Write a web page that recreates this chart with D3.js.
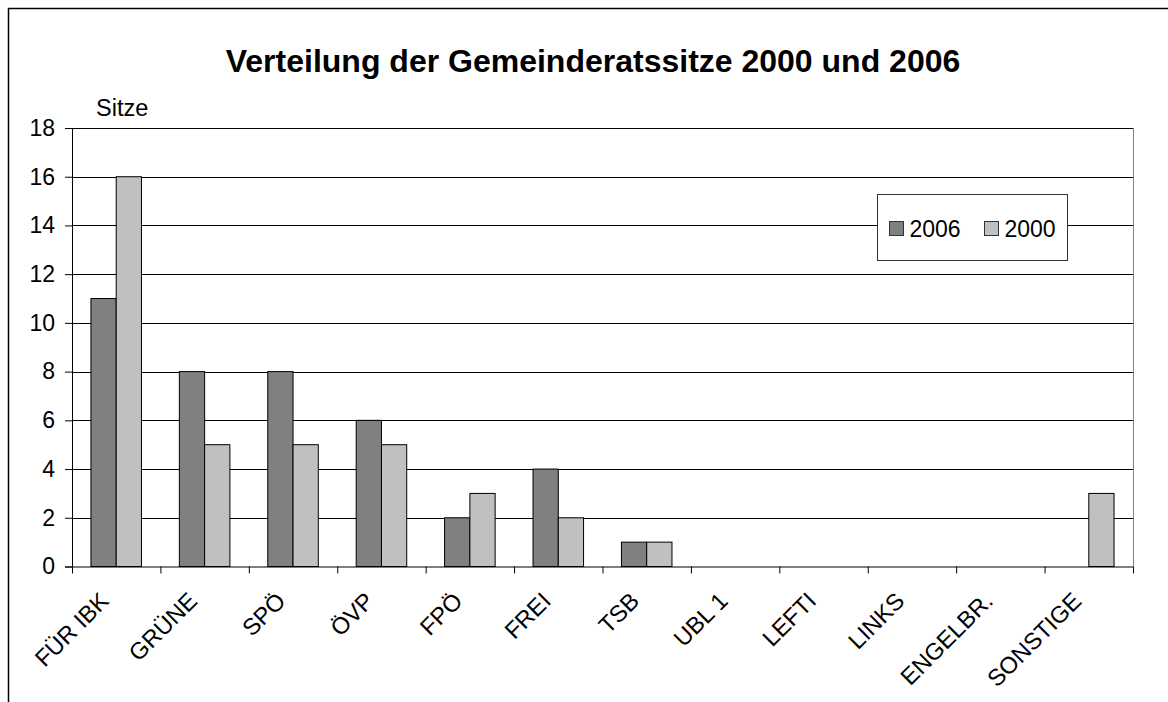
<!DOCTYPE html>
<html>
<head>
<meta charset="utf-8">
<script src="https://cdn.jsdelivr.net/npm/d3@7"></script>
<style>
  body { margin: 0; background: #fff; }
  svg { font-family: "Liberation Sans", Arial, sans-serif; }
</style>
</head>
<body>
<script>
// Data
const parties = ["FÜR IBK", "GRÜNE", "SPÖ", "ÖVP", "FPÖ", "FREI", "TSB", "UBL 1", "LEFTI", "LINKS", "ENGELBR.", "SONSTIGE"];
const seats2006 = [11, 8, 8, 6, 2, 4, 1, 0, 0, 0, 0, 0];
const seats2000 = [16, 5, 5, 5, 3, 2, 1, 0, 0, 0, 0, 3];
const seriesNames = ["2006", "2000"];
const seriesColors = ["#808080", "#c0c0c0"];
const yTicks = [0, 2, 4, 6, 8, 10, 12, 14, 16, 18];

const W = 1168, H = 702;
const margin = { top: 128, left: 72, right: 35, bottom: 135 };
const width = 1133 - margin.left;
const height = 566.5 - margin.top;

const svg = d3.select("body").append("svg")
  .attr("width", W)
  .attr("height", H);

// outer chart frame (right/bottom edges run off the page)
svg.append("rect")
  .attr("x", 8.5).attr("y", 8.5)
  .attr("width", 1300).attr("height", 900)
  .attr("fill", "none")
  .attr("stroke", "#000")
  .attr("stroke-width", 1.5);

svg.append("text")
  .attr("x", 593).attr("y", 72)
  .attr("text-anchor", "middle")
  .attr("font-size", 32)
  .attr("font-weight", "bold")
  .text("Verteilung der Gemeinderatssitze 2000 und 2006");

const g = svg.append("g").attr("transform", `translate(${margin.left},${margin.top})`);

// scales
const x = d3.scaleBand().domain(parties).range([0, width])
  .paddingInner(1.5 / 3.5).paddingOuter(0.75 / 3.5);
const xSub = d3.scaleBand().domain(seriesNames).range([0, x.bandwidth()]);
const xEdge = d3.scaleLinear().domain([0, parties.length]).range([0, width]);
const y = d3.scaleLinear().domain([0, 18]).range([height, 0]);

// gridlines
g.append("g")
  .selectAll("line")
  .data(yTicks.filter(d => d > 0))
  .join("line")
  .attr("x1", 0).attr("x2", width)
  .attr("y1", d => Math.round(y(d)) + 0.5).attr("y2", d => Math.round(y(d)) + 0.5)
  .attr("stroke", "#000")
  .attr("stroke-width", 1);

// right border of plot area
g.append("line")
  .attr("x1", width + 0.5).attr("x2", width + 0.5)
  .attr("y1", y(18)).attr("y2", height)
  .attr("stroke", "#808080");

// bars
const rows = parties.map((p, i) => ({ party: p, values: [seats2006[i], seats2000[i]] }));
const grp = g.append("g").selectAll("g")
  .data(rows)
  .join("g")
  .attr("transform", d => `translate(${x(d.party)},0)`);

grp.selectAll("rect")
  .data(d => d.values.map((v, j) => ({ key: seriesNames[j], v, j })))
  .join("rect")
  .attr("x", d => xSub(d.key))
  .attr("width", xSub.bandwidth())
  .attr("y", d => y(d.v))
  .attr("height", d => height - y(d.v))
  .attr("fill", d => seriesColors[d.j])
  .attr("stroke", "#000")
  .attr("stroke-width", 1)
  .attr("display", d => d.v > 0 ? null : "none");

// y axis
const yaxis = d3.axisLeft(y).tickValues(yTicks).tickSize(7).tickPadding(10);
const gy = g.append("g").call(yaxis);
gy.select(".domain").attr("stroke", "#000");
gy.selectAll("text").attr("font-size", 23).attr("fill", "#000")
  .attr("font-family", "'Liberation Sans', Arial, sans-serif");

// x axis with ticks on category boundaries
const xaxis = d3.axisBottom(xEdge).tickValues(d3.range(parties.length + 1))
  .tickSize(7).tickFormat("");
const gx = g.append("g").attr("transform", `translate(0,${height})`).call(xaxis);
gx.select(".domain").attr("d", `M0,0.5H${width}`).attr("stroke", "#000");

// rotated category labels
g.append("g")
  .selectAll("text")
  .data(parties)
  .join("text")
  .attr("transform", d => `translate(${x(d) + x.bandwidth() / 2 - 6},${height + 36}) rotate(-45)`)
  .attr("text-anchor", "end")
  .attr("font-size", 23.5)
  .text(d => d);

// axis title
svg.append("text")
  .attr("x", 96).attr("y", 116)
  .attr("font-size", 23.5)
  .text("Sitze");

// legend
const legend = svg.append("g").attr("transform", "translate(877,194)");
legend.append("rect")
  .attr("x", 0.5).attr("y", 0.5)
  .attr("width", 190).attr("height", 66)
  .attr("fill", "#fff")
  .attr("stroke", "#333");
const items = legend.selectAll("g.item")
  .data(seriesNames)
  .join("g")
  .attr("class", "item")
  .attr("transform", (d, i) => `translate(${12.5 + i * 95},27.5)`);
items.append("rect")
  .attr("width", 14).attr("height", 14)
  .attr("fill", (d, i) => seriesColors[i])
  .attr("stroke", "#333");
items.append("text")
  .attr("x", 20).attr("y", 15)
  .attr("font-size", 23)
  .text(d => d);
</script>
</body>
</html>
